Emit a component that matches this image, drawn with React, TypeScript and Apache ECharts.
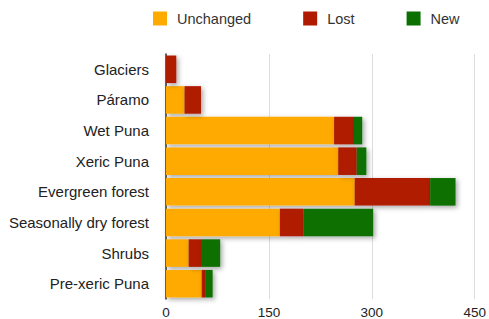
import React, { useEffect, useRef } from "react";
import * as echarts from "echarts";

const categories = [
  "Glaciers",
  "Páramo",
  "Wet Puna",
  "Xeric Puna",
  "Evergreen forest",
  "Seasonally dry forest",
  "Shrubs",
  "Pre-xeric Puna",
];
const unchanged = [0, 27, 245, 251, 275, 166, 33, 52];
const lost = [15, 24, 29, 27, 110, 34, 18, 5];
const added = [0, 0, 12, 14, 37, 102, 28, 11];
const seriesNames = ["Unchanged", "Lost", "New"];
const colors = ["#FFAA00", "#B01A00", "#0B7000"];
const xTicks = [0, 150, 300, 450];

export default function App() {
  const ref = useRef<HTMLDivElement>(null);
  useEffect(() => {
    if (!ref.current) return;
    const chart = echarts.init(ref.current, undefined, { renderer: "svg" });
    const datasets = [unchanged, lost, added];
    chart.setOption({
      animation: false,
      textStyle: { fontFamily: "Arial" },
      legend: {
        top: 6,
        left: 148,
        itemWidth: 14,
        itemHeight: 14,
        itemGap: 52,
        icon: "rect",
        data: seriesNames,
        textStyle: { fontFamily: "Arial", fontSize: 14.5, color: "#333", padding: [0, 0, 0, 5] },
      },
      grid: { left: 166, right: 12, top: 54, bottom: 20, containLabel: false },
      xAxis: {
        type: "value",
        min: xTicks[0],
        max: xTicks[xTicks.length - 1],
        interval: 150,
        axisLine: { show: false },
        axisTick: { show: false },
        splitLine: { show: true, lineStyle: { color: "#dddddd", width: 1 } },
        axisLabel: { fontFamily: "Arial", fontSize: 13.5, color: "#222", margin: 6 },
      },
      yAxis: {
        type: "category",
        inverse: true,
        data: categories,
        axisLine: { show: true, lineStyle: { color: "#333", width: 1.5 } },
        axisTick: { show: false },
        axisLabel: { fontFamily: "Arial", fontSize: 15, color: "#222", margin: 17 },
      },
      series: seriesNames.map((name, i) => ({
        name,
        type: "bar",
        stack: "total",
        barCategoryGap: "10%",
        data: datasets[i],
        itemStyle: {
          color: colors[i],
          shadowBlur: 5,
          shadowOffsetX: 2,
          shadowOffsetY: 2,
          shadowColor: "rgba(0,0,0,0.35)",
        },
      })),
    });
    return () => chart.dispose();
  }, []);
  return <div ref={ref} style={{ width: 489, height: 319, position: "absolute", left: 0, top: 0 }} />;
}
